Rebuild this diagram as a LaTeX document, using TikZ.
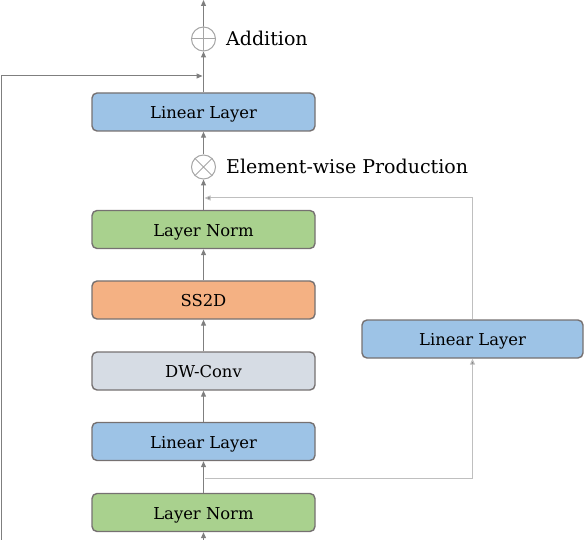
\documentclass[tikz,border=0pt]{standalone}
\usepackage{fontspec}
\setmainfont{DejaVu Serif}
\usetikzlibrary{arrows.meta}
\definecolor{lnblue}{HTML}{9DC3E6}
\definecolor{lngreen}{HTML}{A9D18E}
\definecolor{lnorange}{HTML}{F4B183}
\definecolor{lngray}{HTML}{D6DCE4}
\definecolor{edge}{HTML}{767171}
\definecolor{wire}{HTML}{7F7F7F}
\definecolor{lightwire}{HTML}{BFBFBF}
\definecolor{circ}{HTML}{A6A6A6}
\tikzset{
  blk/.style={draw=edge, line width=1.4pt, rounded corners=5pt, minimum width=223pt, minimum height=38pt, inner sep=0pt, text height=15pt, text depth=1.5pt, font=\fontsize{16.4}{19}\selectfont},
  opc/.style={circle, draw=circ, line width=1pt, minimum size=24pt, inner sep=0pt},
  arr/.style={draw=wire, line width=1pt, -{Triangle[width=5pt,length=6pt]}},
  larr/.style={draw=lightwire, line width=1pt, -{Triangle[width=5pt,length=6pt, fill=wire]}},
  lbl/.style={anchor=base west, inner sep=0pt, font=\fontsize{19}{22}\selectfont}
}
\begin{document}
\begin{tikzpicture}[x=1pt,y=-1pt]
\useasboundingbox (0,0) rectangle (584,540);
\node[blk, fill=lngreen] (ln1) at (203.5,512.5) {Layer Norm};
\node[blk, fill=lnblue] (ll1) at (203.5,441.5) {Linear Layer};
\node[blk, fill=lngray] (dw) at (203.5,371) {DW-Conv};
\node[blk, fill=lnorange] (ss) at (203.5,300) {SS2D};
\node[blk, fill=lngreen] (ln2) at (203.5,229.5) {Layer Norm};
\node[blk, fill=lnblue, minimum width=221pt] (ll3) at (472.5,339) {Linear Layer};
\node[blk, fill=lnblue] (ll2) at (203.5,112) {Linear Layer};
\node[opc] (mul) at (203.5,167) {};
\draw[circ, line width=1pt] (mul.north west) -- (mul.south east) (mul.north east) -- (mul.south west);
\node[opc] (add) at (203.5,39) {};
\draw[circ, line width=1pt] (add.north) -- (add.south) (add.west) -- (add.east);
\node[lbl] (addl) at (226,45.7) {Addition};
\node[lbl] (mull) at (226,173.5) {Element-wise Production};
\coordinate (in) at (203.5,540);
\coordinate (out) at (203.5,0);
\coordinate (br) at (203.5,478);
\coordinate (mg) at (203.5,198);
\coordinate (sk) at (203.5,76);
\draw[arr] (in) -- (ln1.south);
\draw[arr] (ln1.north) -- (ll1.south);
\draw[arr] (ll1.north) -- (dw.south);
\draw[arr] (dw.north) -- (ss.south);
\draw[arr] (ss.north) -- (ln2.south);
\draw[arr] (ln2.north) -- (mul.south);
\draw[arr] (mul.north) -- (ll2.south);
\draw[arr] (ll2.north) -- (add.south);
\draw[arr] (add.north) -- (out);
\draw[larr] ([xshift=1pt]br) -| (ll3.south);
\draw[larr] (ll3.north) |- ([xshift=1pt]mg);
\draw[arr] (1,540) -- (1,76) -- ([xshift=-1pt]sk);
\end{tikzpicture}
\end{document}
